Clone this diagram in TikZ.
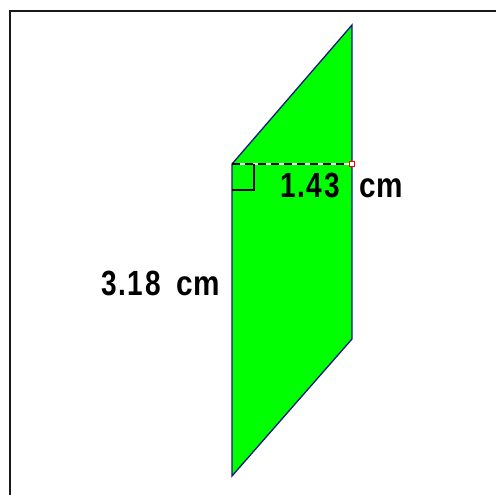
\documentclass[tikz,border=0pt]{standalone}
\usepackage{fontspec}
\setmainfont{Liberation Sans}
\definecolor{figgreen}{RGB}{0,255,0}
\definecolor{edgeblue}{RGB}{20,20,140}
\tikzset{
  lbl/.style={font=\fontsize{35}{35}\selectfont\bfseries\addfontfeature{LetterSpace=6}, inner sep=0pt, xscale=0.8, anchor=base},
  unitlbl/.style={font=\fontsize{35}{35}\selectfont\bfseries, inner sep=0pt, xscale=0.85, anchor=base},
}
\begin{document}
\begin{tikzpicture}[x=1pt,y=-1pt]
\useasboundingbox (0,0) rectangle (496,495);
% frame, open at right and bottom
\draw[line width=2.2pt, black!90] (10,495) -- (10,11) -- (496,11);
% parallelogram
\coordinate (A) at (352,25);
\coordinate (B) at (352,339);
\coordinate (C) at (232,476);
\coordinate (D) at (232,164);
\coordinate (H) at (352,164);
\filldraw[fill=figgreen, draw=edgeblue, line width=1.3pt] (A) -- (B) -- (C) -- (D) -- cycle;
% height
\draw[white, line width=1.3pt] (D) -- (H);
\draw[black, line width=1.3pt, dash pattern=on 8pt off 5pt] (D) -- (H);
\draw[black, line width=1.2pt] (232,190) -- (254,190) -- (254,164);
\filldraw[fill=white, draw=red, line width=1pt] (349.5,161.5) rectangle (354.5,166.5);
% labels
\node[lbl] (h) at (310,197) {1.43};
\node[unitlbl] (hu) at (381,197) {cm};
\node[lbl] (s) at (131,295) {3.18};
\node[unitlbl] (su) at (198,295) {cm};
\end{tikzpicture}
\end{document}
